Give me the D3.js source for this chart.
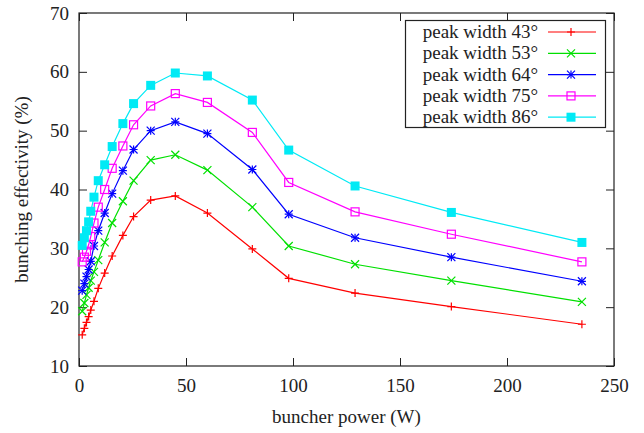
<!DOCTYPE html>
<html>
<head>
<meta charset="utf-8">
<script src="https://cdn.jsdelivr.net/npm/d3@7"></script>
<style>
  body { margin: 0; background: #fff; }
</style>
</head>
<body>
<svg id="chart" width="644" height="433"></svg>
<script>
// buncher power (W), same for every series
const power = [1.5, 2.5, 3.5, 4.5, 5.5, 7, 9, 12, 15.5, 20.5, 25.5, 33.5, 45, 60, 81, 98, 129, 174, 235]

const w43 = [15.3, 16.4, 17.4, 18.4, 19.5, 21, 23.2, 25.8, 28.7, 32.2, 35.4, 38.2, 38.9, 36.0, 29.9, 24.9, 22.4, 20.1, 17.1]
const w53 = [19.3, 20.7, 22.1, 23.3, 24.5, 26, 28, 31, 34.3, 38, 41.5, 45, 45.9, 43.3, 37, 30.4, 27.3, 24.5, 20.9]
const w64 = [22.8, 24, 25.2, 26.4, 27.8, 30.4, 33, 36, 39.3, 43.2, 46.8, 50, 51.5, 49.5, 43.4, 35.8, 31.8, 28.5, 24.4]
const w75 = [27.7, 28.5, 29.5, 30.6, 32, 34.3, 37, 40, 43.6, 47.4, 51, 54.2, 56.3, 54.8, 49.7, 41.2, 36.2, 32.4, 27.7]
const w86 = [30.5, 31.8, 33, 34.5, 36.3, 38.7, 41.5, 44.2, 47.3, 51.2, 54.6, 57.7, 59.8, 59.3, 55.2, 46.7, 40.6, 36.1, 31.0]

const labels = ['peak width 43°', 'peak width 53°', 'peak width 64°', 'peak width 75°', 'peak width 86°']
const xTicks = [0, 50, 100, 150, 200, 250]
const yTicks = [10, 20, 30, 40, 50, 60, 70]

const series = [
  {name: labels[0], values: w43, color: '#ff0000', marker: 'plus'},
  {name: labels[1], values: w53, color: '#00e000', marker: 'cross'},
  {name: labels[2], values: w64, color: '#0000ff', marker: 'star'},
  {name: labels[3], values: w75, color: '#ff00ff', marker: 'box'},
  {name: labels[4], values: w86, color: '#00eaf5', marker: 'fbox'}
]

const margin = {top: 13, right: 30, bottom: 67, left: 79}
const width = 644 - margin.left - margin.right
const height = 433 - margin.top - margin.bottom
const serif = '"Liberation Serif"'
const fs = '19px'

const svg = d3.select('#chart')
const g = svg.append('g').attr('transform', `translate(${margin.left},${margin.top})`)

const x = d3.scaleLinear().domain([0, 250]).range([0, width])
const y = d3.scaleLinear().domain([10, 70]).range([height, 0])

// ticks on all four sides, pointing inward (gnuplot look)
const tl = 8
g.append('g').attr('transform', `translate(0,${height})`)
  .call(d3.axisBottom(x).tickValues(xTicks).tickSizeInner(-tl).tickSizeOuter(0).tickPadding(13))
g.append('g')
  .call(d3.axisTop(x).tickValues(xTicks).tickSizeInner(-tl).tickSizeOuter(0).tickFormat(''))
g.append('g')
  .call(d3.axisLeft(y).tickValues(yTicks).tickSizeInner(-tl).tickSizeOuter(0).tickPadding(10))
g.append('g').attr('transform', `translate(${width},0)`)
  .call(d3.axisRight(y).tickValues(yTicks).tickSizeInner(-tl).tickSizeOuter(0).tickFormat(''))

g.selectAll('.domain').remove()
g.selectAll('.tick line').attr('stroke', '#222')
g.selectAll('.tick text').attr('fill', '#222')
  .style('font-family', serif).style('font-size', fs)

g.append('rect').attr('width', width).attr('height', height)
  .attr('fill', 'none').attr('stroke', '#222').attr('stroke-width', 1.2)

// axis titles
svg.append('text')
  .attr('x', margin.left + width / 2).attr('y', 423)
  .attr('text-anchor', 'middle').attr('fill', '#222')
  .style('font-family', serif).style('font-size', fs)
  .text('buncher power (W)')
svg.append('text')
  .attr('transform', `translate(28,${margin.top + height / 2}) rotate(-90)`)
  .attr('text-anchor', 'middle').attr('fill', '#222')
  .style('font-family', serif).style('font-size', fs)
  .text('bunching effectivity (%)')

function drawMarker(sel, type, color) {
  const s = 4
  if (type === 'plus' || type === 'star') {
    sel.append('path').attr('d', `M${-s},0H${s}M0,${-s}V${s}`)
      .attr('stroke', color).attr('stroke-width', 1.2).attr('fill', 'none')
  }
  if (type === 'cross' || type === 'star') {
    sel.append('path').attr('d', `M${-s},${-s}L${s},${s}M${-s},${s}L${s},${-s}`)
      .attr('stroke', color).attr('stroke-width', 1.2).attr('fill', 'none')
  }
  if (type === 'box') {
    sel.append('rect').attr('x', -s).attr('y', -s).attr('width', 2 * s).attr('height', 2 * s)
      .attr('stroke', color).attr('stroke-width', 1.2).attr('fill', 'none')
  }
  if (type === 'fbox') {
    sel.append('rect').attr('x', -s - 0.5).attr('y', -s - 0.5).attr('width', 2 * s + 1).attr('height', 2 * s + 1)
      .attr('fill', color)
  }
}

const line = d3.line().x(d => x(d[0])).y(d => y(d[1]))

series.forEach(s => {
  const pts = power.map((p, i) => [p, s.values[i]])
  g.append('path').datum(pts).attr('d', line)
    .attr('fill', 'none').attr('stroke', s.color).attr('stroke-width', 1.2)
  g.selectAll(null).data(pts).enter().append('g')
    .attr('transform', d => `translate(${x(d[0])},${y(d[1])})`)
    .each(function() { drawMarker(d3.select(this), s.marker, s.color) })
})

// legend
const leg = svg.append('g')
leg.append('rect').attr('x', 405.5).attr('y', 20.5).attr('width', 200).attr('height', 107)
  .attr('fill', '#fff').attr('stroke', '#222').attr('stroke-width', 1.2)
series.forEach((s, i) => {
  const ly = 32 + i * 21.3
  leg.append('text').attr('x', 538).attr('y', ly + 6).attr('text-anchor', 'end')
    .attr('fill', '#222').style('font-family', serif).style('font-size', fs).text(s.name)
  leg.append('line').attr('x1', 548).attr('x2', 596).attr('y1', ly).attr('y2', ly)
    .attr('stroke', s.color).attr('stroke-width', 1.2)
  const m = leg.append('g').attr('transform', `translate(571,${ly})`)
  drawMarker(m, s.marker, s.color)
})
</script>
</body>
</html>
